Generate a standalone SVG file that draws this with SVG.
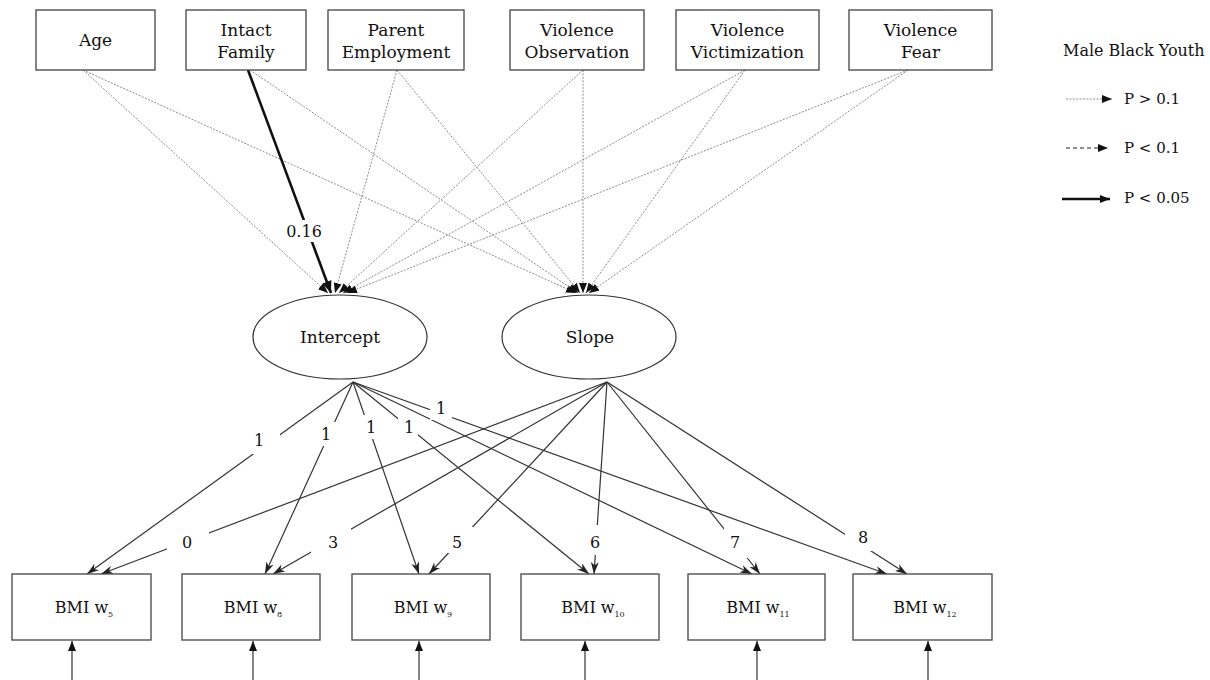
<svg xmlns="http://www.w3.org/2000/svg" width="1210" height="680" viewBox="0 0 1210 680">
  <style>
    .box{fill:#fff;stroke:#444;stroke-width:1.3}
    .ell{fill:#fff;stroke:#333;stroke-width:1.2}
    .t{font-family:"DejaVu Serif","Liberation Serif",serif;fill:#111}
    .top{font-size:17px;text-anchor:middle}
    .bmi{font-size:16px;text-anchor:middle}
    .lab{font-size:16px;text-anchor:middle}
    .leg{font-size:15px}
    .dot{stroke:#8c8c8c;stroke-width:1;stroke-dasharray:2 1.4;fill:none}
    .sol{stroke:#333;stroke-width:1.2;fill:none}
    .bold{stroke:#111;stroke-width:2.6;fill:none}
    .bg{fill:#fff}
  </style>
  <defs>
    <marker id="ah" viewBox="0 0 10 8" refX="10" refY="4" markerWidth="10" markerHeight="8" markerUnits="userSpaceOnUse" orient="auto">
      <path d="M0,0 L10,4 L0,8 z" fill="#111"/>
    </marker>
    <marker id="ahb" viewBox="0 0 10 8" refX="10" refY="4" markerWidth="12" markerHeight="10" markerUnits="userSpaceOnUse" orient="auto">
      <path d="M0,0 L10,4 L0,8 z" fill="#111"/>
    </marker>
    <marker id="st" viewBox="0 0 12 8" refX="12" refY="4" markerWidth="13" markerHeight="8" markerUnits="userSpaceOnUse" orient="auto">
      <path d="M0,0 L12,4 L0,8 L3.5,4 z" fill="#222"/>
    </marker>
  </defs>

  <g id="connectors">
    <!-- predictors to Intercept -->
    <line class="dot" x1="83" y1="70" x2="328" y2="293" marker-end="url(#ah)"/>
    <line class="dot" x1="397" y1="70" x2="335" y2="293" marker-end="url(#ah)"/>
    <line class="dot" x1="583" y1="70" x2="339" y2="293" marker-end="url(#ah)"/>
    <line class="dot" x1="745" y1="70" x2="343" y2="293" marker-end="url(#ah)"/>
    <line class="dot" x1="908" y1="70" x2="347" y2="293" marker-end="url(#ah)"/>
    <!-- predictors to Slope -->
    <line class="dot" x1="83" y1="70" x2="576" y2="293" marker-end="url(#ah)"/>
    <line class="dot" x1="250" y1="70" x2="578" y2="293" marker-end="url(#ah)"/>
    <line class="dot" x1="397" y1="70" x2="580" y2="293" marker-end="url(#ah)"/>
    <line class="dot" x1="583" y1="70" x2="583" y2="293" marker-end="url(#ah)"/>
    <line class="dot" x1="745" y1="70" x2="586" y2="293" marker-end="url(#ah)"/>
    <line class="dot" x1="908" y1="70" x2="589" y2="293" marker-end="url(#ah)"/>
    <!-- significant path -->
    <line class="bold" x1="248" y1="70" x2="331" y2="293" marker-end="url(#ahb)"/>

    <!-- Intercept loadings -->
    <line class="sol" x1="353" y1="382" x2="87" y2="574" marker-end="url(#st)"/>
    <line class="sol" x1="353" y1="382" x2="265" y2="574" marker-end="url(#st)"/>
    <line class="sol" x1="353" y1="382" x2="419" y2="574" marker-end="url(#st)"/>
    <line class="sol" x1="353" y1="382" x2="589" y2="574" marker-end="url(#st)"/>
    <line class="sol" x1="353" y1="382" x2="752" y2="574" marker-end="url(#st)"/>
    <line class="sol" x1="353" y1="382" x2="887" y2="574" marker-end="url(#st)"/>
    <!-- Slope loadings -->
    <line class="sol" x1="607" y1="382" x2="101" y2="574" marker-end="url(#st)"/>
    <line class="sol" x1="607" y1="382" x2="273" y2="574" marker-end="url(#st)"/>
    <line class="sol" x1="607" y1="382" x2="429" y2="574" marker-end="url(#st)"/>
    <line class="sol" x1="607" y1="382" x2="594" y2="574" marker-end="url(#st)"/>
    <line class="sol" x1="607" y1="382" x2="760" y2="574" marker-end="url(#st)"/>
    <line class="sol" x1="607" y1="382" x2="907" y2="574" marker-end="url(#st)"/>

    <!-- residual arrows -->
    <line class="sol" x1="72" y1="680" x2="72" y2="641" marker-end="url(#ah)"/>
    <line class="sol" x1="253" y1="680" x2="253" y2="641" marker-end="url(#ah)"/>
    <line class="sol" x1="419" y1="680" x2="419" y2="641" marker-end="url(#ah)"/>
    <line class="sol" x1="585" y1="680" x2="585" y2="641" marker-end="url(#ah)"/>
    <line class="sol" x1="757" y1="680" x2="757" y2="641" marker-end="url(#ah)"/>
    <line class="sol" x1="928" y1="680" x2="928" y2="641" marker-end="url(#ah)"/>
  </g>

  <g id="path-labels">
    <rect class="bg" x="284" y="220" width="42" height="22"/>
    <text class="t lab" x="304" y="237">0.16</text>

    <rect class="bg" x="250" y="428" width="30" height="26"/>
    <text class="t lab" x="259" y="446">1</text>
    <rect class="bg" x="317" y="422" width="22" height="24"/>
    <text class="t lab" x="326" y="440">1</text>
    <rect class="bg" x="360" y="415" width="20" height="24"/>
    <text class="t lab" x="371" y="433">1</text>
    <rect class="bg" x="398" y="415" width="20" height="24"/>
    <text class="t lab" x="409" y="433">1</text>
    <rect class="bg" x="430" y="399" width="22" height="21"/>
    <text class="t lab" x="441" y="414">1</text>

    <rect class="bg" x="167" y="527" width="42" height="26"/>
    <text class="t lab" x="187" y="548">0</text>
    <rect class="bg" x="311" y="527" width="40" height="26"/>
    <text class="t lab" x="333" y="548">3</text>
    <rect class="bg" x="441" y="527" width="34" height="26"/>
    <text class="t lab" x="457" y="548">5</text>
    <rect class="bg" x="586" y="525" width="20" height="30"/>
    <text class="t lab" x="595" y="548">6</text>
    <rect class="bg" x="724" y="528" width="24" height="30"/>
    <text class="t lab" x="735" y="548">7</text>
    <rect class="bg" x="845" y="526" width="30" height="25"/>
    <text class="t lab" x="863" y="543">8</text>
  </g>

  <g id="age">
    <rect class="box" x="36" y="10" width="119" height="60"/>
    <text class="t top" x="95.5" y="46">Age</text>
  </g>
  <g id="intact-family">
    <rect class="box" x="186" y="10" width="120" height="60"/>
    <text class="t top" x="246" y="36">Intact</text>
    <text class="t top" x="246" y="58">Family</text>
  </g>
  <g id="parent-employment">
    <rect class="box" x="328" y="10" width="136" height="60"/>
    <text class="t top" x="396" y="36">Parent</text>
    <text class="t top" x="396" y="58">Employment</text>
  </g>
  <g id="violence-observation">
    <rect class="box" x="510" y="10" width="134" height="60"/>
    <text class="t top" x="577" y="36">Violence</text>
    <text class="t top" x="577" y="58">Observation</text>
  </g>
  <g id="violence-victimization">
    <rect class="box" x="676" y="10" width="143" height="60"/>
    <text class="t top" x="747.5" y="36">Violence</text>
    <text class="t top" x="747.5" y="58">Victimization</text>
  </g>
  <g id="violence-fear">
    <rect class="box" x="849" y="10" width="143" height="60"/>
    <text class="t top" x="920.5" y="36">Violence</text>
    <text class="t top" x="920.5" y="58">Fear</text>
  </g>

  <g id="intercept">
    <ellipse class="ell" cx="340" cy="337" rx="87" ry="42"/>
    <text class="t" x="340" y="343" font-size="17" text-anchor="middle">Intercept</text>
  </g>
  <g id="slope">
    <ellipse class="ell" cx="589" cy="337" rx="87" ry="42"/>
    <text class="t" x="590" y="343" font-size="17" text-anchor="middle">Slope</text>
  </g>

  <g id="bmi-w5">
    <rect class="box" x="12" y="574" width="139" height="66"/>
    <text class="t bmi" x="84" y="613">BMI w<tspan font-size="8" dy="4">5</tspan></text>
  </g>
  <g id="bmi-w8">
    <rect class="box" x="182" y="574" width="138" height="66"/>
    <text class="t bmi" x="253" y="613">BMI w<tspan font-size="8" dy="4">8</tspan></text>
  </g>
  <g id="bmi-w9">
    <rect class="box" x="352" y="574" width="138" height="66"/>
    <text class="t bmi" x="423" y="613">BMI w<tspan font-size="8" dy="4">9</tspan></text>
  </g>
  <g id="bmi-w10">
    <rect class="box" x="521" y="574" width="138" height="66"/>
    <text class="t bmi" x="593" y="613">BMI w<tspan font-size="8" dy="4">10</tspan></text>
  </g>
  <g id="bmi-w11">
    <rect class="box" x="688" y="574" width="137" height="66"/>
    <text class="t bmi" x="758" y="613">BMI w<tspan font-size="8" dy="4">11</tspan></text>
  </g>
  <g id="bmi-w12">
    <rect class="box" x="853" y="574" width="139" height="66"/>
    <text class="t bmi" x="925" y="613">BMI w<tspan font-size="8" dy="4">12</tspan></text>
  </g>

  <g id="legend">
    <text class="t" x="1063" y="56" font-size="16">Male Black Youth</text>
    <line class="dot" x1="1066" y1="99" x2="1112" y2="99" marker-end="url(#ah)"/>
    <text class="t leg" x="1124" y="104">P &gt; 0.1</text>
    <line x1="1066" y1="148" x2="1108" y2="148" stroke="#222" stroke-width="1.1" stroke-dasharray="4 3" marker-end="url(#ah)"/>
    <text class="t leg" x="1124" y="153">P &lt; 0.1</text>
    <line class="bold" x1="1062" y1="199" x2="1110" y2="199" marker-end="url(#ah)"/>
    <text class="t leg" x="1124" y="203">P &lt; 0.05</text>
  </g>
</svg>
